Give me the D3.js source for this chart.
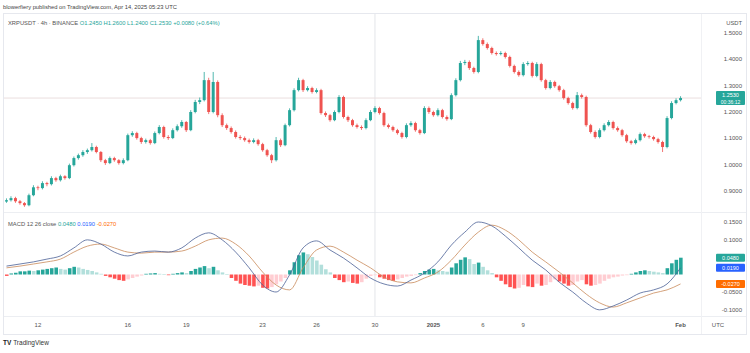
<!DOCTYPE html>
<html><head><meta charset="utf-8">
<script src="https://cdn.jsdelivr.net/npm/d3@7"></script>
<style>body{margin:0;background:#fff}svg{display:block;font-family:"Liberation Sans",Arial,sans-serif}</style>
</head><body><svg id="c" width="750" height="353"></svg>
<script>
const opens=[0.860,0.865,0.873,0.861,0.854,0.846,0.884,0.914,0.911,0.930,
0.926,0.949,0.941,0.956,0.949,0.998,1.025,1.036,1.048,1.055,
1.067,1.048,1.017,1.006,1.025,1.017,1.006,1.017,1.112,1.120,
1.101,1.086,1.093,1.082,1.120,1.143,1.105,1.101,1.131,1.146,
1.162,1.131,1.200,1.238,1.245,1.321,1.200,1.314,1.188,1.150,
1.139,1.124,1.105,1.101,1.093,1.086,1.093,1.078,1.055,1.036,
1.017,1.093,1.074,1.150,1.207,1.283,1.321,1.283,1.291,1.276,
1.283,1.196,1.188,1.169,1.200,1.257,1.181,1.169,1.150,1.143,
1.139,1.169,1.200,1.215,1.196,1.150,1.143,1.131,1.120,1.105,
1.150,1.158,1.131,1.120,1.215,1.200,1.188,1.207,1.181,1.173,
1.264,1.321,1.386,1.390,1.367,1.352,1.473,1.458,1.443,1.424,
1.420,1.424,1.409,1.375,1.352,1.340,1.382,1.386,1.337,1.382,
1.321,1.291,1.314,1.298,1.283,1.253,1.234,1.215,1.264,1.257,
1.150,1.124,1.105,1.131,1.150,1.162,1.139,1.131,1.112,1.089,
1.082,1.093,1.116,1.108,1.105,1.097,1.086,1.067,1.177,1.234,
1.245];
const closes=[0.865,0.873,0.861,0.854,0.846,0.884,0.914,0.911,0.930,0.926,
0.949,0.941,0.956,0.949,0.998,1.025,1.036,1.048,1.055,1.067,
1.048,1.017,1.006,1.025,1.017,1.006,1.017,1.112,1.120,1.101,
1.086,1.093,1.082,1.120,1.143,1.105,1.101,1.131,1.146,1.162,
1.131,1.200,1.238,1.245,1.321,1.200,1.314,1.188,1.150,1.139,
1.124,1.105,1.101,1.093,1.086,1.093,1.078,1.055,1.036,1.017,
1.093,1.074,1.150,1.207,1.283,1.321,1.283,1.291,1.276,1.283,
1.196,1.188,1.169,1.200,1.257,1.181,1.169,1.150,1.143,1.139,
1.169,1.200,1.215,1.196,1.150,1.143,1.131,1.120,1.105,1.150,
1.158,1.131,1.120,1.215,1.200,1.188,1.207,1.181,1.173,1.264,
1.321,1.386,1.390,1.367,1.352,1.473,1.458,1.443,1.424,1.420,
1.424,1.409,1.375,1.352,1.340,1.382,1.386,1.337,1.382,1.321,
1.291,1.314,1.298,1.283,1.253,1.234,1.215,1.264,1.257,1.150,
1.124,1.105,1.131,1.150,1.162,1.139,1.131,1.112,1.089,1.082,
1.093,1.116,1.108,1.105,1.097,1.086,1.067,1.177,1.234,1.245,
1.253];
const highs=[0.872,0.880,0.878,0.866,0.858,0.890,0.922,0.920,0.937,0.935,
0.956,0.954,0.962,0.960,1.004,1.031,1.042,1.055,1.061,1.082,
1.072,1.052,1.022,1.031,1.030,1.021,1.024,1.118,1.127,1.125,
1.106,1.099,1.098,1.126,1.150,1.148,1.112,1.138,1.153,1.169,
1.166,1.207,1.246,1.255,1.352,1.330,1.352,1.320,1.195,1.156,
1.145,1.130,1.112,1.107,1.099,1.100,1.098,1.083,1.060,1.041,
1.105,1.099,1.156,1.214,1.290,1.330,1.326,1.298,1.296,1.290,
1.288,1.202,1.193,1.206,1.264,1.262,1.186,1.174,1.156,1.149,
1.176,1.207,1.222,1.220,1.201,1.156,1.148,1.136,1.125,1.157,
1.165,1.163,1.136,1.222,1.221,1.205,1.214,1.212,1.187,1.271,
1.328,1.394,1.398,1.396,1.372,1.489,1.480,1.464,1.448,1.430,
1.431,1.429,1.414,1.380,1.358,1.389,1.393,1.391,1.389,1.387,
1.326,1.321,1.319,1.303,1.288,1.258,1.239,1.276,1.270,1.262,
1.155,1.130,1.138,1.157,1.169,1.167,1.145,1.136,1.117,1.094,
1.099,1.122,1.121,1.113,1.110,1.102,1.091,1.184,1.241,1.252,
1.260];
const lows=[0.855,0.860,0.855,0.848,0.840,0.842,0.880,0.903,0.906,0.918,
0.921,0.935,0.936,0.943,0.945,0.993,1.019,1.030,1.041,1.050,
1.043,1.010,0.999,1.002,1.011,1.000,1.001,1.013,1.106,1.095,
1.079,1.080,1.076,1.078,1.115,1.099,1.094,1.097,1.126,1.140,
1.124,1.127,1.195,1.230,1.240,1.192,1.195,1.180,1.143,1.132,
1.118,1.099,1.094,1.087,1.080,1.081,1.072,1.049,1.030,1.006,
1.012,1.067,1.070,1.145,1.202,1.278,1.276,1.278,1.270,1.271,
1.190,1.181,1.163,1.165,1.195,1.175,1.162,1.144,1.137,1.132,
1.134,1.165,1.195,1.190,1.144,1.137,1.125,1.114,1.099,1.100,
1.144,1.125,1.114,1.116,1.193,1.182,1.183,1.175,1.167,1.169,
1.259,1.316,1.378,1.360,1.346,1.347,1.452,1.437,1.418,1.414,
1.415,1.403,1.369,1.346,1.334,1.335,1.376,1.331,1.332,1.315,
1.285,1.286,1.292,1.277,1.247,1.228,1.209,1.210,1.251,1.144,
1.118,1.099,1.100,1.126,1.145,1.133,1.125,1.106,1.083,1.076,
1.077,1.088,1.102,1.099,1.091,1.080,1.048,1.062,1.172,1.229,
1.240];
// MACD & signal sampled every 3rd bar
const macdLine=[0.024,0.030,0.036,0.044,0.053,0.076,0.099,0.087,0.064,0.053,
0.064,0.067,0.064,0.076,0.104,0.119,0.099,0.064,0.019,-0.030,
-0.050,-0.001,0.076,0.096,0.070,0.047,0.019,-0.010,-0.027,-0.033,
-0.016,0.004,0.036,0.084,0.121,0.150,0.139,0.110,0.076,0.041,
0.013,-0.022,-0.050,-0.081,-0.101,-0.090,-0.073,-0.053,-0.044,-0.027,
0.019];
const signalLine=[0.019,0.024,0.030,0.036,0.044,0.064,0.081,0.087,0.076,0.064,
0.061,0.064,0.064,0.067,0.081,0.099,0.104,0.087,0.053,0.007,
-0.030,-0.044,0.019,0.070,0.081,0.064,0.041,0.019,-0.007,-0.021,
-0.024,-0.010,0.007,0.041,0.084,0.121,0.141,0.127,0.099,0.064,
0.036,0.007,-0.024,-0.056,-0.081,-0.093,-0.081,-0.067,-0.053,-0.044,
-0.027];
const histogram=[-0.004,0.003,0.005,0.009,0.009,0.011,0.010,0.012,0.014,0.016,
0.018,0.020,0.016,0.014,0.018,0.022,0.020,0.016,0.013,0.010,
0.006,0.002,-0.004,-0.008,-0.012,-0.016,-0.018,-0.014,-0.010,-0.006,
-0.003,0.002,0.003,0.004,0.002,0.001,-0.002,0.002,0.004,0.006,
0.004,0.010,0.016,0.020,0.024,0.018,0.022,0.012,0.006,0.001,
-0.010,-0.018,-0.026,-0.030,-0.032,-0.034,-0.032,-0.038,-0.040,-0.036,
-0.028,-0.020,-0.010,0.012,0.035,0.055,0.063,0.058,0.050,0.040,
0.028,0.015,0.006,-0.010,-0.016,-0.022,-0.020,-0.024,-0.026,-0.022,
-0.012,-0.004,-0.002,-0.008,-0.012,-0.016,-0.018,-0.014,-0.010,-0.006,
-0.004,-0.002,0.004,0.010,0.014,0.016,0.012,0.010,0.008,0.020,
0.032,0.042,0.049,0.044,0.030,0.034,0.022,0.012,0.004,-0.008,
-0.018,-0.028,-0.036,-0.040,-0.038,-0.030,-0.034,-0.036,-0.026,-0.032,
-0.030,-0.022,-0.014,-0.020,-0.026,-0.032,-0.030,-0.020,-0.016,-0.028,
-0.032,-0.030,-0.026,-0.018,-0.012,-0.008,-0.006,-0.003,-0.002,0.002,
0.006,0.010,0.012,0.010,0.008,0.006,0.004,0.018,0.032,0.042,
0.048];
const priceTicks=[1.5,1.4,1.3,1.2,1.1,1.0,0.9];
const macdTicks=[0.15,0.10,0.05,0.00,-0.05,-0.10];
const timeTickIdx=[7,27,40,57,69,82,95,106,115,150];
const timeTickLabels=["12","16","19","23","26","30","2025","6","9","Feb"];
const boldTicks=["2025","Feb"];
const crossIdx=82;
const headerText="blowerfiery published on TradingView.com, Apr 14, 2025 05:23 UTC";
const symbolText="XRPUSDT · 4h · BINANCE";
const ohlcText="O1.2450 H1.2600 L1.2400 C1.2530 +0.0080 (+0.64%)";
const macdTitle="MACD 12 26 close";
const countdown="00:36:12";

const svg=d3.select("#c");
const N=closes.length;
const x=d3.scaleBand().domain(d3.range(N+4)).range([5,700]).paddingInner(0.34);
const cx=i=>x(i)+x.bandwidth()/2;
const y=d3.scaleLinear().domain([0.9,1.5]).range([191,33]);
const ym=d3.scaleLinear().domain([-0.10,0.15]).range([309.5,222]);
const up="#26a69a",dn="#ef5350";

// frame
svg.append("rect").attr("x",3.5).attr("y",13.5).attr("width",743).attr("height",321).attr("fill","none").attr("stroke","#e6e8ee");
svg.append("line").attr("x1",4).attr("x2",746).attr("y1",212.5).attr("y2",212.5).attr("stroke","#eceef2");
svg.append("line").attr("x1",4).attr("x2",746).attr("y1",316.5).attr("y2",316.5).attr("stroke","#eceef2");
svg.append("line").attr("x1",701.5).attr("x2",701.5).attr("y1",14).attr("y2",334).attr("stroke","#f0f1f4");
// crosshair vertical
svg.append("line").attr("x1",cx(crossIdx)).attr("x2",cx(crossIdx)).attr("y1",14).attr("y2",316).attr("stroke","#e3e5ea");
// last price line
const lastC=closes[N-1];
svg.append("line").attr("x1",4).attr("x2",701).attr("y1",y(lastC)).attr("y2",y(lastC)).attr("stroke","#eadede");

// header texts
svg.append("text").attr("x",3).attr("y",9).attr("font-size",5.8).attr("fill","#444").text(headerText);
const lg=svg.append("text").attr("x",8).attr("y",25).attr("font-size",5.8);
lg.append("tspan").attr("fill","#555").text(symbolText+"  ");
lg.append("tspan").attr("fill",up).text(ohlcText);

// candles
const g=svg.append("g");
d3.range(N).forEach(i=>{
  const c=closes[i]>=opens[i]?up:dn;
  g.append("line").attr("x1",cx(i)).attr("x2",cx(i)).attr("y1",y(highs[i])).attr("y2",y(lows[i])).attr("stroke",c).attr("stroke-width",0.8);
  const t=y(Math.max(opens[i],closes[i])),b=y(Math.min(opens[i],closes[i]));
  g.append("rect").attr("x",x(i)).attr("width",x.bandwidth()).attr("y",t).attr("height",Math.max(0.8,b-t)).attr("fill",c);
});

// price axis labels
svg.append("text").attr("x",742).attr("y",25).attr("text-anchor","end").attr("font-size",5.8).attr("fill","#555").text("USDT");
const by=y(lastC);
priceTicks.forEach(v=>{
  if(Math.abs(y(v)-by)<10) return;
  svg.append("text").attr("x",742).attr("y",y(v)+2).attr("text-anchor","end").attr("font-size",6).attr("fill","#555").text(v.toFixed(4));
});
// price badge
svg.append("rect").attr("x",716).attr("y",by-7).attr("width",29).attr("height",14).attr("fill",up).attr("rx",1);
svg.append("text").attr("x",730.5).attr("y",by-1).attr("text-anchor","middle").attr("font-size",5.5).attr("fill","#fff").text(lastC.toFixed(4));
svg.append("text").attr("x",730.5).attr("y",by+5.5).attr("text-anchor","middle").attr("font-size",5).attr("fill","#fff").text(countdown);

// MACD histogram
const hg=svg.append("g");
histogram.forEach((v,i)=>{
  const p=i>0?histogram[i-1]:v;
  let col;
  if(v>=0) col=v>=p?"#26a69a":"#b2dfdb"; else col=v<=p?"#ff5252":"#ffcdd2";
  const y0=ym(0),y1=ym(v);
  hg.append("rect").attr("x",x(i)).attr("width",x.bandwidth()+0.6).attr("y",Math.min(y0,y1)).attr("height",Math.max(0.6,Math.abs(y1-y0))).attr("fill",col);
});
// MACD lines
const ln=d3.line().x((d,k)=>cx(k*3)).y(d=>ym(d)).curve(d3.curveMonotoneX);
svg.append("path").attr("d",ln(signalLine)).attr("fill","none").attr("stroke","#c98a5a").attr("stroke-width",0.8);
svg.append("path").attr("d",ln(macdLine)).attr("fill","none").attr("stroke","#4a5f95").attr("stroke-width",0.8);

// MACD legend
const ml=svg.append("text").attr("x",8).attr("y",226).attr("font-size",5.8);
const hLast=histogram[N-1],mLast=macdLine[macdLine.length-1],sLast=signalLine[signalLine.length-1];
ml.append("tspan").attr("fill","#555").text(macdTitle+"  ");
ml.append("tspan").attr("fill",up).text(hLast.toFixed(4)+"  ");
ml.append("tspan").attr("fill","#2962ff").text(mLast.toFixed(4)+"  ");
ml.append("tspan").attr("fill","#ff6d00").text(sLast.toFixed(4));

// MACD axis labels (hidden where a value badge sits)
const badges=[[hLast,up],[mLast,"#2962ff"],[sLast,"#ff6d00"]];
macdTicks.forEach(v=>{
  if(badges.some(([b])=>Math.abs(ym(b)-ym(v))<7)) return;
  svg.append("text").attr("x",742).attr("y",ym(v)+2).attr("text-anchor","end").attr("font-size",6).attr("fill","#555").text(v.toFixed(4));
});
badges.forEach(([v,c])=>{
  const yy=ym(v);
  svg.append("rect").attr("x",716).attr("y",yy-4).attr("width",29).attr("height",8).attr("fill",c).attr("rx",1);
  svg.append("text").attr("x",730.5).attr("y",yy+2).attr("text-anchor","middle").attr("font-size",5.5).attr("fill","#fff").text(v.toFixed(4));
});

// time axis
timeTickIdx.forEach((idx,k)=>{
  const lab=timeTickLabels[k];
  svg.append("text").attr("x",cx(idx)).attr("y",327).attr("text-anchor","middle").attr("font-size",6)
    .attr("font-weight",boldTicks.includes(lab)?"bold":"normal").attr("fill","#555").text(lab);
});
svg.append("text").attr("x",718).attr("y",327).attr("text-anchor","middle").attr("font-size",6).attr("fill","#555").text("UTC");

// logo
const lt=svg.append("text").attr("x",3).attr("y",345).attr("font-size",6.5);
lt.append("tspan").attr("font-weight","bold").attr("fill","#222").text("TV ");
lt.append("tspan").attr("fill","#333").text("TradingView");
</script></body></html>
